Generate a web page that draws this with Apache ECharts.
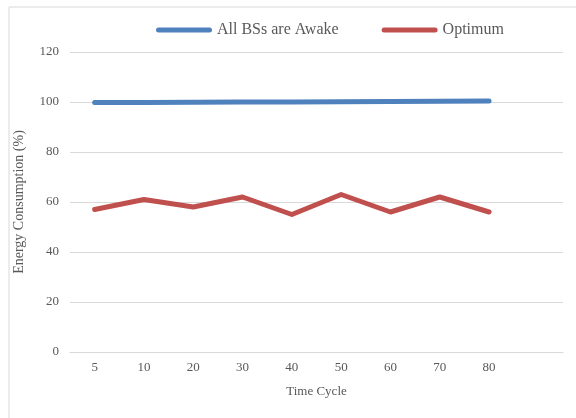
<!DOCTYPE html>
<html>
<head>
<meta charset="utf-8">
<script src="https://cdn.jsdelivr.net/npm/echarts@6/dist/echarts.min.js"></script>
<style>
html,body{margin:0;padding:0;background:#fff;}
#chart{width:576px;height:418px;}
</style>
</head>
<body>
<div id="chart"></div>
<script>
const categories = ['5', '10', '20', '30', '40', '50', '60', '70', '80', ''];
const allAwake = [99.8, 99.8, 99.9, 100, 100, 100.1, 100.2, 100.3, 100.4];
const optimum = [57, 61, 58, 62, 55, 63, 56, 62, 56];
const yTicks = [0, 20, 40, 60, 80, 100, 120];
const seriesNames = ['All BSs are Awake', 'Optimum'];

const FONT = '"Liberation Serif", "Times New Roman", serif';
const TXT = '#595959';
const GRID = '#d9d9d9';
const legendIcon = 'path://M2.5,0 L53.5,0 A2.5,2.5 0 0 1 53.5,5 L2.5,5 A2.5,2.5 0 0 1 2.5,0 Z';

const chart = echarts.init(document.getElementById('chart'), null, {renderer: 'canvas'});
chart.setOption({
  animation: false,
  backgroundColor: '#ffffff',
  color: ['#4f81bd', '#c0504d'],
  graphic: [{
    type: 'rect',
    left: 6.5, top: 4.5,
    shape: {width: 580, height: 412},
    style: {fill: 'none', stroke: GRID, lineWidth: 1},
    silent: true
  }],
  legend: {
    left: 151, top: 17,
    itemWidth: 56, itemHeight: 5, itemGap: 43,
    icon: legendIcon,
    textStyle: {fontFamily: FONT, fontSize: 16, color: TXT},
    data: seriesNames
  },
  grid: {left: 70, right: 13, top: 52, bottom: 66, containLabel: false},
  xAxis: {
    type: 'category',
    data: categories,
    boundaryGap: true,
    name: 'Time Cycle',
    nameLocation: 'middle',
    nameGap: 33,
    nameTextStyle: {fontFamily: FONT, fontSize: 13, color: TXT},
    axisLine: {show: true, lineStyle: {color: GRID, width: 1}},
    axisTick: {show: false},
    axisLabel: {fontFamily: FONT, fontSize: 13, color: TXT, margin: 9, interval: 0},
    splitLine: {show: false}
  },
  yAxis: {
    type: 'value',
    min: yTicks[0], max: yTicks[yTicks.length - 1], interval: 20,
    name: 'Energy Consumption (%)',
    nameLocation: 'middle',
    nameGap: 44,
    nameTextStyle: {fontFamily: FONT, fontSize: 14, color: TXT},
    axisLine: {show: false},
    axisTick: {show: false},
    axisLabel: {fontFamily: FONT, fontSize: 13, color: TXT, margin: 11},
    splitLine: {show: true, lineStyle: {color: GRID, width: 1}}
  },
  series: [
    {
      name: seriesNames[0], type: 'line', data: allAwake,
      showSymbol: false, symbol: 'none',
      lineStyle: {width: 5, cap: 'round', join: 'round'}
    },
    {
      name: seriesNames[1], type: 'line', data: optimum,
      showSymbol: false, symbol: 'none',
      lineStyle: {width: 5, cap: 'round', join: 'round'}
    }
  ]
});
</script>
</body>
</html>
